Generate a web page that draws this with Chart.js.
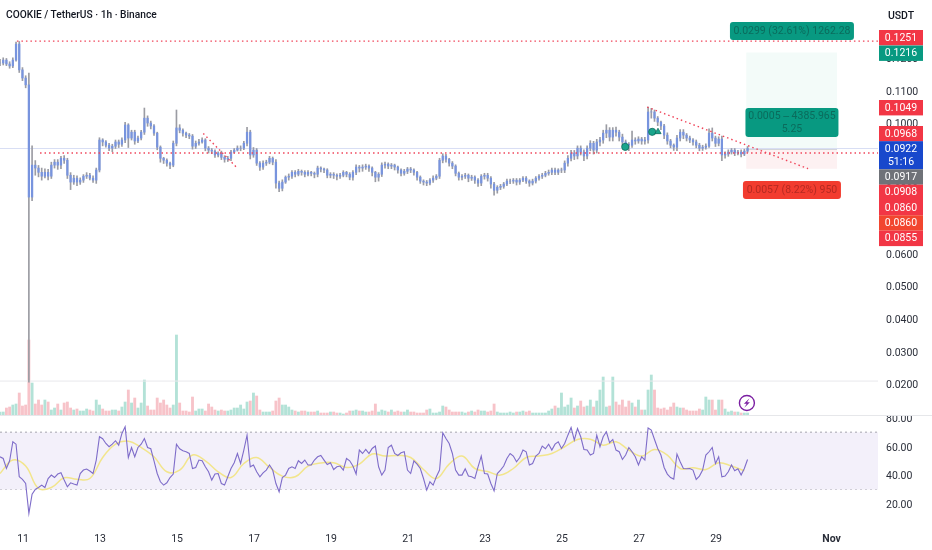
<!DOCTYPE html>
<html lang="en">
<head>
<meta charset="UTF-8">
<title>COOKIE / TetherUS 1h</title>
<script src="https://cdn.jsdelivr.net/npm/chart.js"></script>
<style>
    html, body { margin: 0; background: #fff; }
    #wrap { position: relative; width: 932px; height: 550px; overflow: hidden; }
    #chart { display: block; }
    #title { position: absolute; left: 6px; top: 9px; font: 500 10.2px Roboto, sans-serif; color: #131722; }
    #unit { position: absolute; left: 879px; width: 44px; top: 9px; text-align: center; font: 500 10.5px Roboto, sans-serif; color: #131722; }
</style>
</head>
<body>
<div id="wrap">
    <canvas id="chart" width="932" height="550"></canvas>
    <div id="title">COOKIE / TetherUS · 1h · Binance</div>
    <div id="unit">USDT</div>
</div>
<script>
// two hour bars
const closes = [.1184,.1193,.1181,.1175,.1193,.1242,.1163,.1138,.1117,.0773,.0871,.0862,.0849,.0837,.0849,.0837,.0871,.0880,.0871,.0892,.0886,.0840,.0819,.0831,.0819,.0825,.0837,.0840,.0831,.0825,
.0856,.0948,.0942,.0932,.0923,.0929,.0942,.0935,.0948,.0994,.0954,.0972,.0945,.0954,.0972,.1015,.1000,.0991,.0969,.0926,.0892,.0886,.0877,.0871,.0938,.0985,.0978,.0969,.0963,.0960,
.0929,.0938,.0942,.0948,.0923,.0917,.0914,.0902,.0908,.0895,.0889,.0892,.0911,.0917,.0923,.0923,.0938,.0972,.0902,.0917,.0877,.0865,.0877,.0880,.0892,.0880,.0816,.0800,.0819,.0834,
.0837,.0849,.0843,.0852,.0849,.0843,.0849,.0846,.0843,.0862,.0859,.0856,.0840,.0843,.0840,.0837,.0840,.0849,.0843,.0834,.0849,.0865,.0862,.0865,.0868,.0862,.0849,.0834,.0843,.0871,
.0874,.0868,.0871,.0865,.0856,.0846,.0852,.0859,.0856,.0849,.0834,.0822,.0819,.0816,.0825,.0831,.0837,.0886,.0899,.0889,.0877,.0868,.0846,.0834,.0837,.0840,.0831,.0834,.0825,.0816,
.0837,.0840,.0831,.0813,.0794,.0803,.0806,.0813,.0822,.0822,.0825,.0819,.0825,.0831,.0822,.0816,.0822,.0831,.0837,.0840,.0846,.0849,.0856,.0849,.0856,.0856,.0877,.0892,.0908,.0899,
.0923,.0911,.0899,.0923,.0938,.0917,.0942,.0948,.0969,.0978,.0957,.0978,.0972,.0957,.0942,.0935,.0932,.0948,.0945,.0951,.0945,.0948,.1034,.1034,.1015,.1003,.0991,.0963,.0945,.0932,
.0926,.0954,.0972,.0963,.0954,.0948,.0942,.0932,.0923,.0926,.0929,.0969,.0954,.0938,.0951,.0902,.0905,.0911,.0917,.0908,.0911,.0905,.0914,.0922];
const highs = [.1195,.1200,.1198,.1188,.1200,.1248,.1250,.1170,.1145,.1153,.0930,.0885,.0870,.0862,.0860,.0858,.0880,.0888,.0888,.0898,.0900,.0892,.0848,.0840,.0838,.0832,.0842,.0848,.0846,.0838,
.0862,.0955,.0952,.0946,.0938,.0935,.0948,.0948,.0955,.1002,.0998,.0978,.0978,.0960,.0978,.1046,.1022,.1006,.0995,.0972,.0930,.0895,.0890,.0880,.0945,.1040,.0995,.0982,.0972,.0968,
.0965,.0945,.0950,.0955,.0952,.0928,.0922,.0918,.0912,.0914,.0900,.0898,.0916,.0922,.0930,.0930,.0944,.0987,.0978,.0925,.0922,.0882,.0884,.0886,.0898,.0896,.0888,.0822,.0826,.0838,
.0844,.0854,.0854,.0858,.0856,.0854,.0854,.0852,.0850,.0868,.0866,.0862,.0860,.0848,.0848,.0844,.0846,.0854,.0852,.0848,.0854,.0872,.0870,.0872,.0874,.0872,.0866,.0852,.0848,.0878,
.0880,.0878,.0876,.0874,.0868,.0860,.0858,.0864,.0864,.0860,.0852,.0838,.0826,.0824,.0830,.0838,.0842,.0892,.0906,.0904,.0892,.0882,.0872,.0850,.0842,.0846,.0844,.0840,.0838,.0830,
.0842,.0846,.0846,.0836,.0818,.0808,.0812,.0818,.0828,.0828,.0830,.0830,.0830,.0836,.0836,.0826,.0828,.0836,.0842,.0846,.0852,.0856,.0862,.0862,.0860,.0862,.0884,.0900,.0916,.0916,
.0930,.0930,.0918,.0930,.0946,.0944,.0950,.0956,.0978,.0995,.0986,.0986,.0988,.0978,.0966,.0948,.0940,.0975,.0955,.0958,.0956,.0956,.1049,.1045,.1040,.1020,.1006,.0996,.0970,.0950,
.0936,.0962,.0980,.0980,.0968,.0960,.0952,.0948,.0938,.0932,.0936,.0982,.0985,.0960,.0958,.0960,.0912,.0918,.0922,.0922,.0916,.0918,.0920,.0928];
const lows = [.1176,.1178,.1176,.1168,.1170,.1190,.1155,.1130,.1108,.0206,.0762,.0840,.0835,.0825,.0832,.0826,.0830,.0862,.0858,.0860,.0876,.0830,.0796,.0812,.0808,.0812,.0818,.0830,.0826,.0818,
.0815,.0850,.0930,.0926,.0915,.0912,.0922,.0925,.0928,.0940,.0925,.0948,.0935,.0940,.0948,.0965,.0990,.0982,.0962,.0918,.0880,.0876,.0868,.0860,.0866,.0930,.0970,.0960,.0955,.0952,
.0920,.0922,.0932,.0938,.0915,.0908,.0906,.0895,.0896,.0888,.0880,.0882,.0885,.0908,.0914,.0915,.0918,.0930,.0890,.0895,.0870,.0855,.0858,.0870,.0875,.0872,.0800,.0790,.0792,.0815,
.0825,.0830,.0835,.0838,.0840,.0835,.0838,.0838,.0832,.0835,.0850,.0848,.0832,.0832,.0830,.0826,.0830,.0835,.0835,.0826,.0825,.0842,.0850,.0852,.0858,.0852,.0838,.0820,.0822,.0836,
.0862,.0860,.0860,.0856,.0846,.0838,.0840,.0845,.0848,.0840,.0825,.0815,.0810,.0808,.0810,.0818,.0826,.0830,.0878,.0880,.0868,.0860,.0838,.0825,.0826,.0830,.0820,.0824,.0815,.0806,
.0808,.0828,.0822,.0800,.0779,.0785,.0796,.0800,.0808,.0814,.0815,.0810,.0812,.0820,.0815,.0806,.0810,.0816,.0825,.0830,.0835,.0840,.0842,.0842,.0842,.0848,.0848,.0868,.0884,.0888,
.0890,.0902,.0885,.0890,.0915,.0905,.0908,.0930,.0938,.0955,.0945,.0945,.0960,.0945,.0930,.0926,.0915,.0925,.0935,.0938,.0935,.0935,.0938,.1015,.1005,.0992,.0980,.0952,.0935,.0924,
.0916,.0915,.0945,.0952,.0945,.0940,.0932,.0924,.0915,.0916,.0920,.0925,.0945,.0928,.0930,.0885,.0892,.0898,.0905,.0900,.0902,.0896,.0900,.0910];
const volumes = [3,3,7,8,10,11,22,9,10,75,32,11,15,10,15,13,5,7,11,5,12,13,7,5,6,4,4,6,5,4,
15,10,6,4,4,5,5,4,8,13,25,12,17,7,12,35,9,5,5,17,12,15,10,7,10,80,12,4,4,3,
18,4,6,6,4,11,8,5,4,5,4,4,5,7,7,10,6,13,14,22,19,5,3,3,3,4,14,17,10,10,
8,5,4,3,4,4,3,3,3,4,2,2,2,3,3,2,2,1,2,4,4,5,4,4,3,3,4,11,3,5,
4,3,5,3,4,3,3,5,3,3,2,2,2,5,6,2,2,3,9,8,5,3,3,3,3,2,3,4,3,5,
4,4,3,4,11,3,2,2,2,3,2,3,3,4,3,4,2,2,2,2,2,4,6,9,7,22,8,10,17,7,
9,14,8,9,15,8,14,25,38,8,9,38,13,10,15,8,14,12,8,15,5,5,25,40,25,7,6,7,5,8,
12,8,7,7,5,4,4,4,6,5,18,15,15,5,15,15,6,3,4,3,3,2,2,2];
const rsiValues = [52.8,51.6,44.6,50,63.3,61.6,38.8,37,34.1,13.2,26.7,30,31.3,33,31.3,37.6,40,38.3,40.7,41.6,36.5,31.8,34.6,33.7,33,41.1,43.5,44.2,42.8,41.1,
50.5,66.8,65.4,62.1,59.8,61.6,64,60.9,69.1,73.8,52.3,59.3,52.8,59.3,61.6,65.6,59.3,58.4,50,41.1,35.3,33,34.6,38.3,40.7,61.6,58.4,57,56.3,55.1,
44.6,45.3,50.5,50,45.8,42.3,36.5,40.7,41.1,34.1,33,38.8,44.6,48.6,55.1,48.1,57.5,67.9,45.8,47,42.3,38.8,41.6,43.5,47,43.5,34.1,28.3,38.3,40,
44.6,45.8,44.6,50,48.1,50.5,47,47,50.5,52.8,53.7,50.5,47.4,48.6,43.9,45.8,46.3,43.5,51.6,50,46.3,40.7,57.5,55.1,57.9,55.1,58.6,60.3,45.8,40,
43.5,59.3,60.9,55.1,53.7,55.6,56.3,43.5,41.1,50,47.7,44.6,37.6,29.5,35.3,33,38.8,43.5,69.6,65.6,62.1,55.1,43.5,40,40,44.4,39.3,38.8,37.6,45.8,
53.3,41.1,40.7,34.1,29,41.1,43.5,46.3,51.6,55.1,53.3,49.3,52.3,57.5,56.3,47,48.1,53.3,55.1,60.3,58.4,61.6,57.5,61.6,63.3,58.6,62.1,67.9,73.3,64.4,
72.6,66.8,57.9,57.5,54,55.1,67.9,59.8,66.8,70.3,62.6,64.9,57.5,56.3,50.9,54,59.3,56.3,52.8,47,52.8,50.5,72.9,71.4,64.9,58.6,54,45.3,40.7,38.3,
37.2,54.7,49.3,44.6,44.4,44.6,43.5,37,39.3,43.5,54,56.3,59.3,48.1,52.8,38.8,39.3,42.3,47,43,44.4,40,44.6,50.9];
// moving average of the RSI, one reading every eight hours
const rsiMaValues = [41.1,50.5,46.3,30.6,31.3,38.1,37,37.6,52.3,61.6,63.7,59.3,52.8,42.3,43.5,54,50,42.3,38.3,48.1,52.3,45.3,39.3,38.8,46.3,
48.5,48.6,45.3,47.7,54.7,53.3,53.7,52.3,43.9,37.6,47.7,53.3,44.6,42.5,40,44.6,52.3,53.3,55.1,59.8,64.9,65.1,60.9,63.3,57.5,53.3,57.9,54,44.6,45.1,43.9,48.6,46.3,43];

const firstDay = 10.4;
const lastDay = 33.205;
const dateTickDays = [11, 13, 15, 17, 19, 21, 23, 25, 27, 29, 32];
const dateTickLabels = ['11', '13', '15', '17', '19', '21', '23', '25', '27', '29', 'Nov'];
const priceTicks = [.12, .11, .10, .09, .08, .07, .06, .05, .04, .03, .02];
const rsiTicks = [80, 60, 40, 20];
const rsiLevels = [70, 50, 30];

const resistancePrice = .1251, stopLevelPrice = .0908, lastPrice = .0922;
const paneEdgePrice = .0209;
const trendA = [[27.21, .1049], [31.39, .0860]];
const trendB = [[15.68, .0968], [16.58, .0860]];
const targetPrice = .1216, entryPrice = .0917, stopPrice = .0860;
const zoneDays = [29.78, 32.14];
const signals = [[26.64, .0927, 'circle'], [27.34, .0973, 'circle'], [27.49, .0973, 'triangle']];

const priceTags = ['0.1251', '0.1216', '0.1049', '0.0968', '0.0922', '0.0917', '0.0908', '0.0860', '0.0860', '0.0855'];
const tagTops = [30, 45.5, 100, 126, 141.2, 169.3, 184.7, 200, 215.3, 230.7];
const tagColors = ['#f23645', '#089981', '#f23645', '#f23645', '#1848cc', '#6f7278', '#f23645', '#f23645', '#f2462f', '#f23645'];

const barDays = closes.map((_, i) => firstDay + i / 12);
const maDays = rsiMaValues.map((_, i) => firstDay + i / 3);

function hLine(price, from, to) {
    return [{ x: from, y: price }, { x: to, y: price }];
}
function segment(pts) {
    return pts.map(p => ({ x: p[0], y: p[1] }));
}

const redDots = { type: 'line', yAxisID: 'y', borderColor: '#f0455a', borderWidth: 1.4, borderDash: [1.5, 3], pointRadius: 0 };

// stop the tick labels from pushing the plot in
function fitRight(s) {
    s.width = 54;
    s.paddingTop = 0;
    s.paddingBottom = 0;
}

const overlay = {
    id: 'overlay',
    afterDraw(chart) {
        const ctx = chart.ctx, x = chart.scales.x, y = chart.scales.y, rsi = chart.scales.rsi;
        ctx.save();

        // pane separator, the top RSI label is cut by it
        ctx.fillStyle = '#fff';
        ctx.fillRect(879, rsi.top - 6, 53, 6);
        ctx.strokeStyle = '#e6e7ea';
        ctx.lineWidth = 1;
        ctx.beginPath();
        ctx.moveTo(0, rsi.top + 0.5);
        ctx.lineTo(932, rsi.top + 0.5);
        ctx.stroke();

        // right hand price tags
        ctx.textAlign = 'center';
        ctx.textBaseline = 'middle';
        priceTags.forEach((t, i) => {
            const h = i === 4 ? 28.1 : 15.4;
            ctx.fillStyle = tagColors[i];
            ctx.fillRect(879, tagTops[i], 44, h);
            ctx.fillStyle = '#fff';
            ctx.font = '10.5px Roboto, sans-serif';
            ctx.fillText(t, 901, tagTops[i] + 8);
            if (i === 4) ctx.fillText('51:16', 901, tagTops[i] + 21);
        });

        // long position labels
        const cx = x.getPixelForValue(30.97);
        const box = (price, w, h, fill, color, lines) => {
            const cy = y.getPixelForValue(price);
            ctx.fillStyle = fill;
            ctx.beginPath();
            ctx.roundRect(cx - w / 2, cy - h / 2, w, h, 3);
            ctx.fill();
            ctx.fillStyle = color;
            ctx.font = '10.5px Roboto, sans-serif';
            lines.forEach((l, i) => ctx.fillText(l, cx, cy + 0.5 + (i - (lines.length - 1) / 2) * 13));
        };
        box(.1282, 124, 18, '#089981', '#0b6b5c', ['0.0299 (32.61%) 1262.28']);
        box(.1002, 93, 29, '#089981', '#0b6b5c', ['0.0005 ‒ 4385.965', '5.25']);
        box(.0795, 98, 18, '#f23c2f', '#b52a22', ['0.0057 (8.22%) 950']);

        // lightning badge next to the last volume bar
        const bx = x.getPixelForValue(29.8), by = y.getPixelForValue(.0142);
        ctx.strokeStyle = '#7b1fa2';
        ctx.lineWidth = 1.4;
        ctx.beginPath();
        ctx.arc(bx, by, 7.5, 0, Math.PI * 2);
        ctx.stroke();
        ctx.fillStyle = '#7b1fa2';
        ctx.beginPath();
        ctx.moveTo(bx + 2.6, by - 4.8);
        ctx.lineTo(bx - 3, by + 0.8);
        ctx.lineTo(bx - 0.2, by + 0.8);
        ctx.lineTo(bx - 2.6, by + 4.8);
        ctx.lineTo(bx + 3, by - 0.8);
        ctx.lineTo(bx + 0.2, by - 0.8);
        ctx.closePath();
        ctx.fill();
        ctx.restore();
    }
};

new Chart(document.getElementById('chart'), {
    type: 'bar',
    plugins: [overlay],
    data: {
        datasets: [
            // first dataset ends up on top
            {
                type: 'line', yAxisID: 'y', showLine: false,
                data: signals.map(s => ({ x: s[0], y: s[1] })),
                pointStyle: signals.map(s => s[2]),
                pointRadius: 3.6, backgroundColor: '#1aa58c', borderColor: '#0b6b5c', borderWidth: 0.8
            },
            { ...redDots, data: segment(trendA) },
            { ...redDots, data: segment(trendB) },
            { ...redDots, data: hLine(resistancePrice, 10.84, lastDay) },
            { ...redDots, data: hLine(stopLevelPrice, 11.44, lastDay) },
            {
                type: 'bar', yAxisID: 'y', grouped: false, barThickness: 1.6,
                data: closes.map((c, i) => ({ x: barDays[i], y: [i ? closes[i - 1] : c, c] })),
                backgroundColor: '#7894de'
            },
            {
                type: 'bar', yAxisID: 'y', grouped: false, barThickness: 1,
                data: closes.map((c, i) => ({ x: barDays[i], y: [lows[i], highs[i]] })),
                backgroundColor: '#9b9ca3'
            },
            { type: 'line', yAxisID: 'y', data: hLine(lastPrice, firstDay, lastDay), borderColor: '#d8def4', borderWidth: 1, pointRadius: 0 },
            { type: 'line', yAxisID: 'y', data: hLine(paneEdgePrice, firstDay, lastDay), borderColor: '#e8e8ec', borderWidth: 1, pointRadius: 0 },
            { type: 'line', yAxisID: 'y', data: hLine(lastPrice, zoneDays[0], zoneDays[1]), fill: { value: entryPrice }, backgroundColor: '#d3d5da', borderWidth: 0, pointRadius: 0 },
            { type: 'line', yAxisID: 'y', data: hLine(targetPrice, zoneDays[0], zoneDays[1]), fill: { value: entryPrice }, backgroundColor: '#f3fbf9', borderWidth: 0, pointRadius: 0 },
            { type: 'line', yAxisID: 'y', data: hLine(entryPrice, zoneDays[0], zoneDays[1]), fill: { value: stopPrice }, backgroundColor: '#fdf1f2', borderWidth: 0, pointRadius: 0 },
            {
                type: 'bar', yAxisID: 'vol', grouped: false, barThickness: 2.2,
                data: volumes.map((v, i) => ({ x: barDays[i], y: v })),
                backgroundColor: closes.map((c, i) => (i && c < closes[i - 1] ? '#f7c3c9' : '#b3e2d7'))
            },
            {
                type: 'line', yAxisID: 'rsi',
                data: rsiValues.map((v, i) => ({ x: barDays[i], y: v })),
                borderColor: '#7e6cc9', borderWidth: 1.1, pointRadius: 0, tension: 0
            },
            {
                type: 'line', yAxisID: 'rsi',
                data: rsiMaValues.map((v, i) => ({ x: maDays[i], y: v })),
                borderColor: '#f2e58c', borderWidth: 1.5, pointRadius: 0, tension: 0.4
            },
            { type: 'line', yAxisID: 'rsi', data: hLine(rsiLevels[0], firstDay, lastDay), fill: { value: rsiLevels[2] }, backgroundColor: '#f3f0fa', borderColor: '#a5a5ad', borderWidth: 1, borderDash: [2, 3], pointRadius: 0 },
            { type: 'line', yAxisID: 'rsi', data: hLine(rsiLevels[1], firstDay, lastDay), borderColor: '#c4c4cb', borderWidth: 1, borderDash: [2, 3], pointRadius: 0 },
            { type: 'line', yAxisID: 'rsi', data: hLine(rsiLevels[2], firstDay, lastDay), borderColor: '#a5a5ad', borderWidth: 1, borderDash: [2, 3], pointRadius: 0 }
        ]
    },
    options: {
        responsive: false,
        animation: false,
        layout: { autoPadding: false, padding: 0 },
        plugins: { legend: { display: false }, tooltip: { enabled: false }, title: { display: false } },
        scales: {
            x: {
                type: 'linear', min: firstDay, max: lastDay, offset: false,
                grid: { display: false, drawTicks: false }, border: { display: false },
                afterBuildTicks: s => { s.ticks = dateTickDays.map(v => ({ value: v })); },
                afterFit: s => { s.height = 28; s.paddingLeft = 0; s.paddingRight = 0; },
                ticks: {
                    autoSkip: false, maxRotation: 0, padding: 11, color: '#2a2e39',
                    callback: v => dateTickLabels[dateTickDays.indexOf(v)],
                    font: c => ({ family: 'Roboto, sans-serif', size: 10.5, weight: c.tick && c.tick.value === 32 ? '700' : '400' })
                }
            },
            y: {
                position: 'right', stack: 'right', stackWeight: 415,
                min: .0105, max: .13772,
                grid: { display: false, drawTicks: false }, border: { display: false },
                afterBuildTicks: s => { s.ticks = priceTicks.map(v => ({ value: v })); },
                afterFit: fitRight,
                ticks: { autoSkip: false, padding: 8, labelOffset: 1.5, color: '#2a2e39', crossAlign: 'near', font: { family: 'Roboto, sans-serif', size: 10.5 }, callback: v => v.toFixed(4) }
            },
            rsi: {
                position: 'right', stack: 'right', stackWeight: 107,
                min: 7.2, max: 82,
                grid: { display: false, drawTicks: false }, border: { display: false },
                afterBuildTicks: s => { s.ticks = rsiTicks.map(v => ({ value: v })); },
                afterFit: fitRight,
                ticks: { autoSkip: false, padding: 8, labelOffset: 1.5, color: '#2a2e39', crossAlign: 'near', font: { family: 'Roboto, sans-serif', size: 10.5 }, callback: v => v.toFixed(2) }
            },
            // volume sits at the bottom of the price pane, hidden axis covers the whole plot height
            vol: { display: false, min: -107, max: 415 }
        }
    }
});
</script>
</body>
</html>
